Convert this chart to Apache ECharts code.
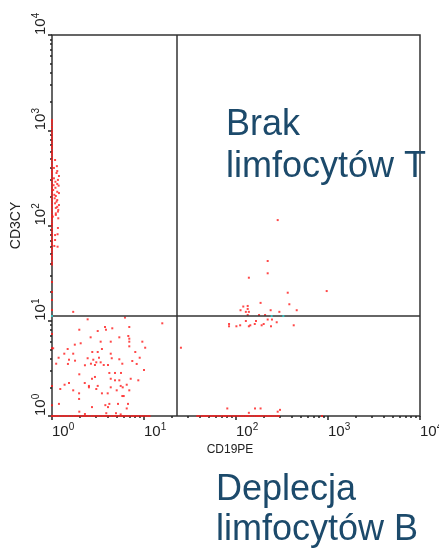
<!DOCTYPE html>
<html>
<head>
<meta charset="utf-8">
<script src="https://cdn.jsdelivr.net/npm/echarts@6/dist/echarts.min.js"></script>
<style>
  html, body { margin: 0; padding: 0; background: #fff; }
  #chart { width: 439px; height: 549px; }
</style>
</head>
<body>
<div id="chart"></div>
<script>
// Flow cytometry dot plot: CD19PE (x) vs CD3CY (y), 4-decade log scales.

// Decade exponents shown as 10^n on both axes
const decadeExponents = ['0', '1', '2', '3', '4'];

// Quadrant gate positions
const gateCD19 = 22.8;
const gateCD3 = 11.2;

// Double-negative events (lower-left quadrant)
const doubleNegative = [
  [1.70,12.4],[2.44,10.35],[6.21,10.8],[3.77,8.60],[4.52,8.33],[6.92,8.60],[1.98,8.05],[3.14,7.80],
  [3.86,8.05],[6.75,6.92],[2.63,6.70],[5.39,6.70],[6.92,6.48],[6.92,6.03],[9.59,6.03],[3.38,6.03],
  [4.35,6.03],[2.05,5.80],[1.77,5.61],[6.92,5.39],[10.3,5.21],[1.03,5.14],[1.48,5.05],[3.49,5.05],
  [2.74,4.70],[3.14,4.70],[1.36,4.51],[1.70,4.51],[4.35,4.51],[8.04,4.70],[2.44,4.04],[3.24,4.09],
  [1.18,4.09],[1.53,3.90],[2.81,3.90],[4.46,4.04],[5.39,3.94],[8.98,4.09],[1.78,3.81],[3.03,3.66],
  [3.38,3.66],[2.65,3.54],[3.65,3.43],[4.06,3.43],[1.11,3.54],[1.49,3.52],[2.28,3.41],[2.93,3.43],
  [5.81,3.54],[7.46,3.78],[8.33,3.52],[10.0,3.04],[4.20,2.83],[4.84,2.83],[5.62,2.83],[1.98,2.74],
  [2.93,2.57],[2.72,2.46],[7.17,2.46],[4.35,2.46],[4.84,2.37],[5.39,2.37],[8.67,2.37],[1.53,2.22],
  [2.27,2.22],[1.37,2.13],[2.52,2.07],[2.52,2.00],[3.14,2.07],[6.49,2.13],[5.58,2.07],[4.35,2.00],
  [5.87,2.00],[3.03,1.92],[1.23,1.92],[1.70,1.86],[6.92,1.86],[5.05,1.86],[1.97,1.73],[3.49,1.73],
  [4.03,1.73],[5.81,1.62],[6.02,1.62],[1.97,1.51],[4.20,1.34],[3.80,1.30],[5.22,1.34],[6.70,1.34],
  [1.19,1.34],[2.72,1.24],[4.06,1.24],[6.49,1.20],[1.98,1.11],[3.89,1.07],[4.96,1.07],[5.58,1.04],
  [2.28,1.05],[15.8,9.40],[25.2,5.21]
];

// CD3+ events compressed against the low CD19 edge
const cd3Column = [
  [1.08,487],[1.14,373],[1.12,356],[1.09,288],[1.14,273],[1.09,249],[1.14,226],[1.10,204],
  [1.14,185],[1.08,171],[1.14,157],[1.17,146],[1.10,134],[1.07,193],[1.03,236],[1.05,313],
  [1.17,119],[1.08,79.4],[1.15,81],[1.08,70.4],[1.15,59.9],[1.06,61],[1.02,124],[1.19,331],
  [1.19,219],[1.16,301],[1.10,153],[1.19,164],[1.05,402],[1.10,129],[1.16,94.2],[1.13,420],
  [1.18,262],[1.06,210],[1.12,178],[1.16,140],[1.04,265]
];

// CD19+ events around the horizontal gate
const cd19Cluster = [
  [221,42.4],[221,31.5],[138,28.3],[968,20.5],[365,19.7],[185,15.4],[380,14.9],[120,14.1],
  [134,14.3],[134,13.3],[112,12.9],[238,12.9],[457,12.9],[296,12.4],[128,12.4],[138,12.4],
  [134,11.5],[178,11.5],[207,11.5],[128,9.94],[165,9.94],[221,10.3],[246,10.3],[277,9.64],
  [84,9.25],[160,9.25],[200,9.25],[424,8.96],[111,8.96],[143,8.96],[190,8.96],[101,8.75],
  [84,8.75],[138,8.75],[240,8.75],[284,114],
  [80.4,1.20],[138,1.08],[161,1.20],[185,1.20],[284,1.11],[301,1.16]
];

// Events piled on the CD19 minimum (CD3CY values)
const cd19MinPile = [
  1280,1210,1150,1080,1020,965,910,860,812,768,724,685,646,610,576,545,514,486,459,433,
  409,386,365,345,326,308,291,275,259,245,231,218,206,195,184,174,164,155,146,138,130,123,
  116,110,104,98,92,87,82,78,73,69,65,62,58,55,52,49,46,44,41,39,
  25.5,20.0,16.5,13.0,7.26,5.14,2.07,1.30
];

// Events piled on the CD3 minimum (CD19PE values)
const cd3MinPile = [
  1.0,1.05,1.11,1.17,1.24,1.31,1.38,1.46,1.55,1.63,1.73,1.83,1.93,2.04,2.16,2.28,2.41,2.55,
  2.7,2.85,3.02,3.19,3.37,3.56,3.77,3.99,4.21,4.45,4.71,4.98,5.27,5.57,5.89,6.23,6.59,6.96,
  7.36,7.79,8.23,8.7,9.2,9.73,10.3,10.9,11.5,
  38,40,42.5,45,47.5,50,53,56,59,62.5,66,70,74,78,82.5,87,92,97,103,109,115,121,128,135,
  143,151,160,169,178,188,199,210,222,235,248,262,277,293,861
];

// Events lying on the gate line
const gateEvents = [[1, 11.2], [244, 11.2], [327, 11.2]];

const font = 'Liberation Sans, Arial, sans-serif';
const inkColor = '#222';
const noteColor = '#1c4a6b';
const eventColor = '#ff1a1a';

function decadeLabel(v) {
  const e = Math.round(Math.log10(v));
  return '{b|10}{s|' + decadeExponents[e] + '}';
}

const labelRich = {
  b: { fontSize: 15, fontFamily: font, color: inkColor, lineHeight: 17, verticalAlign: 'bottom' },
  s: { fontSize: 10, fontFamily: font, color: inkColor, lineHeight: 17, verticalAlign: 'top' }
};

function logAxis(extra) {
  return Object.assign({
    type: 'log',
    logBase: 10,
    min: 1,
    max: 10000,
    axisLine: { show: false },
    axisTick: { show: true, length: 4, lineStyle: { color: inkColor, width: 1.5 } },
    minorTick: { show: true, splitNumber: 9, length: 2, lineStyle: { color: inkColor, width: 1.5 } },
    splitLine: { show: false },
    minorSplitLine: { show: false }
  }, extra);
}

const pointStyle = { color: eventColor, opacity: 0.8 };

const chart = echarts.init(document.getElementById('chart'), null, { renderer: 'canvas' });
chart.setOption({
  animation: false,
  backgroundColor: '#fff',
  grid: {
    left: 52, top: 35, right: 19, bottom: 133,
    outerBoundsMode: 'none',
    containLabel: false,
    show: true, borderColor: '#333', borderWidth: 1.5, backgroundColor: 'transparent'
  },
  xAxis: logAxis({
    name: 'CD19PE',
    nameLocation: 'middle',
    nameGap: 27,
    nameTextStyle: { fontSize: 12, fontFamily: font, color: inkColor, padding: [0, 12, 0, 0] },
    axisLabel: { formatter: decadeLabel, align: 'left', verticalAlign: 'top', margin: 6, rich: labelRich }
  }),
  yAxis: logAxis({
    name: 'CD3CY',
    nameLocation: 'middle',
    nameGap: 29,
    nameTextStyle: { fontSize: 14, fontFamily: font, color: inkColor },
    axisLabel: { formatter: decadeLabel, rotate: 90, align: 'left', verticalAlign: 'bottom', margin: 4, rich: labelRich }
  }),
  series: [
    {
      name: 'CD3 min pile',
      type: 'scatter',
      symbol: 'rect',
      symbolSize: 2,
      itemStyle: pointStyle,
      data: cd3MinPile.map(v => [v, 1]),
      markLine: {
        silent: true,
        symbol: 'none',
        label: { show: false },
        lineStyle: { color: '#333', width: 1.5, type: 'solid' },
        data: [{ xAxis: gateCD19 }, { yAxis: gateCD3 }]
      }
    },
    {
      name: 'CD19 min pile',
      type: 'scatter',
      symbol: 'rect',
      symbolSize: 2,
      itemStyle: pointStyle,
      data: cd19MinPile.map(v => [1, v])
    },
    { name: 'double negative', type: 'scatter', symbol: 'rect', symbolSize: 2, itemStyle: pointStyle, data: doubleNegative },
    { name: 'CD3 column', type: 'scatter', symbol: 'rect', symbolSize: 2, itemStyle: pointStyle, data: cd3Column },
    { name: 'CD19 cluster', type: 'scatter', symbol: 'rect', symbolSize: 2, itemStyle: pointStyle, data: cd19Cluster },
    { name: 'gate events', type: 'scatter', symbol: 'rect', symbolSize: 2, z: 5, itemStyle: { color: '#2ad4d4' }, data: gateEvents }
  ],
  graphic: [
    { type: 'text', left: 226, top: 107, style: { text: 'Brak', font: '36px ' + font, fill: noteColor } },
    { type: 'text', left: 226, top: 149, style: { text: 'limfocytów T', font: '36px ' + font, fill: noteColor } },
    { type: 'text', left: 216, top: 472, style: { text: 'Deplecja', font: '36px ' + font, fill: noteColor } },
    { type: 'text', left: 216, top: 512, style: { text: 'limfocytów B', font: '36px ' + font, fill: noteColor } }
  ]
});
</script>
</body>
</html>
